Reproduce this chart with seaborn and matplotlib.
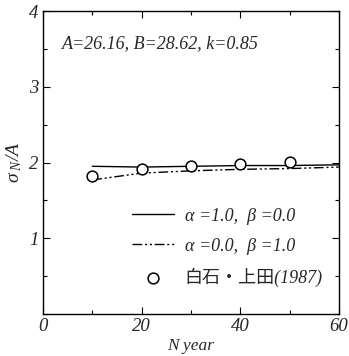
import matplotlib
matplotlib.use("Agg")
import matplotlib.pyplot as plt
import seaborn as sns
import pandas as pd
from matplotlib.ticker import MultipleLocator

sns.set_theme(style="ticks")
plt.rcParams['font.family'] = ['Liberation Serif', 'Noto Sans CJK JP', 'DejaVu Sans']
plt.rcParams['mathtext.fontset'] = 'custom'
plt.rcParams['mathtext.it'] = 'Liberation Serif:italic'
plt.rcParams['mathtext.rm'] = 'Liberation Serif'

years_line = [10, 20, 30, 40, 50, 60]
solid_vals = [1.95, 1.94, 1.95, 1.96, 1.96, 1.97]
dashdot_vals = [1.77, 1.86, 1.89, 1.91, 1.92, 1.94]
obs_years = [10, 20, 30, 40, 50]
obs_vals = [1.82, 1.91, 1.95, 1.98, 2.01]

label_solid = "α =1.0,  β =0.0"
label_dashdot = "α =0.0,  β =1.0"
label_obs = "白石・上田(1987)"

fig = plt.figure(figsize=(3.49, 3.56), dpi=100)
ax = fig.add_axes([0.123, 0.118, 0.848, 0.851])

df1 = pd.DataFrame({"N": years_line, "v": solid_vals})
df2 = pd.DataFrame({"N": years_line, "v": dashdot_vals})
df3 = pd.DataFrame({"N": obs_years, "v": obs_vals})

sns.lineplot(data=df1, x="N", y="v", ax=ax, color="black", lw=1.0, label=label_solid)
sns.lineplot(data=df2, x="N", y="v", ax=ax, color="black", lw=1.0, label=label_dashdot)
ax.lines[1].set_dashes([7, 2, 1.5, 2, 1.5, 2])
sns.scatterplot(data=df3, x="N", y="v", ax=ax, marker="o", s=60, facecolor="white",
                edgecolor="black", linewidth=1.1, label=label_obs, zorder=5)

ax.set_xlim(0, 60)
ax.set_ylim(0, 4)
ax.xaxis.set_major_locator(MultipleLocator(20))
ax.xaxis.set_minor_locator(MultipleLocator(10))
ax.yaxis.set_major_locator(MultipleLocator(1))
ax.yaxis.set_minor_locator(MultipleLocator(0.5))
ax.tick_params(which="both", direction="in", top=True, right=True, color="black")
ax.tick_params(which="major", length=5, width=0.8, labelsize=13.5, pad=3)
ax.tick_params(which="minor", length=3, width=0.8)
ax.set_yticks([1, 2, 3, 4])
ax.set_yticklabels(["1", "2", "3", "4"], fontstyle="italic")
ax.set_xticks([0, 20, 40, 60])
ax.set_xticklabels(["0", "20", "40", "60"], fontstyle="italic")
for s in ax.spines.values():
    s.set_color("black")
    s.set_linewidth(1.0)

ax.set_xlabel("N year", fontsize=12.5, fontstyle="italic", labelpad=2)
ax.set_ylabel(r"$\sigma_{\ N}$/A", fontsize=14, fontstyle="italic", labelpad=4)

ax.text(0.065, 0.893, "A=26.16, B=28.62, k=0.85", transform=ax.transAxes,
        fontsize=13, fontstyle="italic", ha="left", va="center")

leg = ax.legend(loc="lower right", frameon=False, fontsize=13, handlelength=2.3,
                handletextpad=0.6, labelspacing=0.72,
                bbox_to_anchor=(0.97, 0.065), borderaxespad=0.0)
for t in leg.get_texts():
    t.set_fontstyle("italic")

fig.savefig("out.png", dpi=100)
